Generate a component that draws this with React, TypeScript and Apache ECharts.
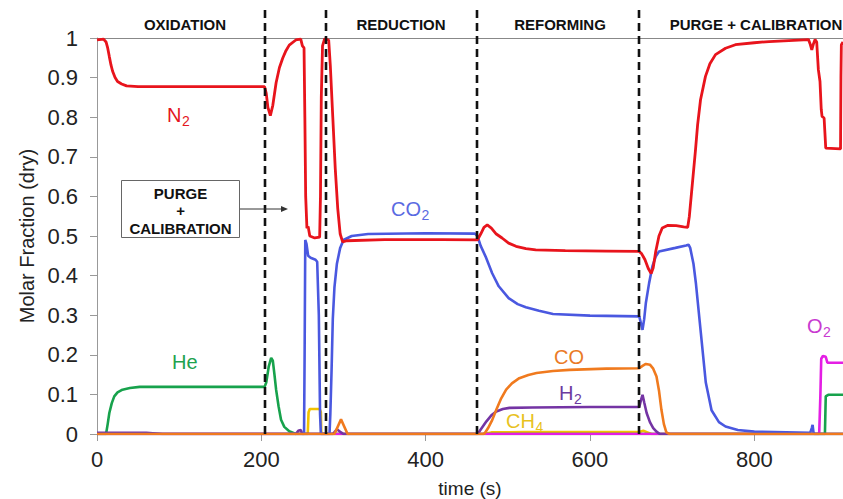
import React, { useEffect, useRef } from 'react';
import * as echarts from 'echarts';

// time (s), molar fraction (dry)
const N2_DATA = [
  [0, 0.995], [8, 0.997], [11, 0.99], [13, 0.975], [15, 0.953], [17, 0.932], [19, 0.916], [22, 0.9], [25, 0.89], [30, 0.884], [36, 0.879], [50, 0.877],
  [204, 0.877], [206, 0.86], [208, 0.825], [211, 0.804], [214, 0.83], [218, 0.887], [222, 0.925], [226, 0.949], [230, 0.968], [234, 0.982], [242, 0.995], [248, 0.997],
  [250, 0.98], [252, 0.975], [253, 0.8], [254, 0.6], [255.5, 0.52], [257, 0.524], [259, 0.5], [265, 0.495], [271, 0.497],
  [272, 0.6], [273, 0.85], [274.5, 0.98], [277, 0.998], [282, 0.995], [284, 0.93], [287, 0.8], [290, 0.67], [293, 0.57], [296, 0.505], [299, 0.485], [304, 0.488],
  [350, 0.491], [420, 0.491], [463, 0.49], [467, 0.505], [471, 0.522], [475, 0.528], [480, 0.52], [486, 0.505], [493, 0.495], [501, 0.482], [510, 0.474], [522, 0.468], [534, 0.465], [570, 0.463], [620, 0.462],
  [660, 0.461], [663, 0.455], [667, 0.44], [671, 0.418], [674.5, 0.405], [677, 0.42], [680, 0.46], [684, 0.5], [688, 0.52], [695, 0.527], [705, 0.526], [714, 0.523], [719, 0.522],
  [721, 0.55], [725, 0.64], [728.5, 0.718], [731, 0.78], [734.6, 0.844], [740.6, 0.903], [746, 0.935], [752.8, 0.958], [765, 0.974], [777, 0.983], [800, 0.988], [818, 0.991], [866, 0.996],
  [868, 0.985], [870, 0.97], [872, 0.985], [874, 0.996], [876, 0.99], [878, 0.92], [880, 0.89], [881.5, 0.82], [882.5, 0.802], [885, 0.798], [886, 0.76], [887, 0.722],
  [905, 0.72], [905.5, 0.9], [906, 0.983], [908, 0.99],
];

const CO2_DATA = [
  [0, 0], [252, 0], [252.7, 0.2], [253.5, 0.49], [255, 0.48], [257, 0.45], [260, 0.445], [266, 0.44], [268, 0.435], [270, 0.3], [271.5, 0.05], [272.5, 0],
  [283, 0], [284, 0.05], [285.5, 0.16], [287, 0.29], [289, 0.37], [292, 0.43], [296, 0.47], [300, 0.49], [310, 0.5], [330, 0.505], [400, 0.507], [460, 0.506],
  [463, 0.5], [467, 0.475], [473, 0.448], [481, 0.406], [489, 0.373], [501, 0.343], [512, 0.328], [522, 0.32], [538, 0.311], [555, 0.303], [600, 0.299], [660, 0.297],
  [662, 0.28], [664, 0.263], [666, 0.29], [668, 0.33], [672, 0.381], [676, 0.423], [680, 0.448], [684, 0.461], [704, 0.47], [717, 0.476], [720, 0.478],
  [722, 0.47], [726, 0.43], [729, 0.38], [735, 0.255], [741, 0.13], [748, 0.06], [757, 0.03], [765, 0.019], [780, 0.01], [800, 0.006], [868, 0.003],
  [870, 0.015], [871, 0.023], [872, 0.005], [873, 0], [908, 0],
];

const HE_DATA = [
  [0, 0], [11, 0], [13, 0.025], [15, 0.053], [18, 0.078], [21, 0.095], [25, 0.105], [31, 0.112], [40, 0.116], [52, 0.119], [204, 0.119],
  [206, 0.13], [209, 0.17], [212, 0.192], [214, 0.185], [216, 0.15], [218, 0.112], [221, 0.07], [224, 0.036], [228, 0.018], [234, 0.007], [242, 0],
  [886, 0], [887, 0.095], [890, 0.099], [908, 0.099],
];

const CO_DATA = [
  [0, 0], [289, 0], [297, 0.037], [305, 0], [470, 0], [472, 0.002], [476, 0.015], [481, 0.035], [486, 0.061], [492, 0.09], [498, 0.112], [505, 0.128],
  [514, 0.141], [525, 0.149], [535, 0.154], [555, 0.159], [575, 0.162], [620, 0.165], [660, 0.166], [664, 0.172], [668, 0.177], [673, 0.175], [677, 0.165],
  [681, 0.145], [684, 0.11], [687, 0.061], [690, 0.025], [693, 0.004], [697, 0], [908, 0],
];

const H2_DATA = [
  [0, 0.003], [60, 0.003], [80, 0], [242, 0], [245, 0.008], [248, 0.01], [250, 0], [287, 0], [292, 0.012], [297, 0.004], [300, 0],
  [463, 0], [466, 0.008], [470, 0.02], [474, 0.032], [480, 0.047], [486, 0.057], [494, 0.063], [502, 0.066], [530, 0.067], [600, 0.068], [660, 0.068],
  [662, 0.085], [664, 0.099], [666, 0.08], [669, 0.053], [673, 0.03], [677, 0.015], [681, 0.006], [685, 0], [908, 0],
];

const CH4_DATA = [
  [0, 0], [256.5, 0], [257.5, 0.055], [259, 0.063], [271, 0.063], [272.5, 0.055], [273, 0], [470, 0], [480, 0.004], [520, 0.005], [660, 0.005],
  [665, 0.008], [670, 0.004], [675, 0], [908, 0],
];

const O2_DATA = [
  [0, 0], [879, 0], [880.5, 0.1], [881.5, 0.19], [883.5, 0.197], [887, 0.195], [889, 0.18], [908, 0.18],
];

const PHASE_BOUNDS = [205, 279, 463, 660];
const PHASE_NAMES = ['OXIDATION', 'REDUCTION', 'REFORMING', 'PURGE + CALIBRATION'];
const PHASE_LABEL_X = [185, 401, 560, 756];

const X_MIN = 0;
const X_MAX = 908;
const X_STEP = 200;
const Y_MIN = 0;
const Y_MAX = 1;
const Y_STEP = 0.1;

const FONT = '"Liberation Sans", Arial, sans-serif';

export default function App() {
  const ref = useRef<HTMLDivElement>(null);

  useEffect(() => {
    if (!ref.current) return;
    const chart = echarts.init(ref.current, null, { renderer: 'svg' });

    const mk = (name: string, data: number[][], color: string, width = 2.6) => ({
      name,
      type: 'line',
      data,
      showSymbol: false,
      symbol: 'none',
      silent: true,
      lineStyle: { color, width },
      itemStyle: { color },
      z: 3,
    });

    chart.setOption({
      animation: false,
      backgroundColor: '#ffffff',
      grid: { left: 97, right: 0, top: 38, bottom: 65, containLabel: false, outerBoundsMode: 'none' },
      xAxis: [
        {
          type: 'value',
          min: X_MIN,
          max: X_MAX,
          interval: X_STEP,
          name: 'time (s)',
          nameLocation: 'middle',
          nameGap: 45,
          nameTextStyle: { fontFamily: FONT, fontSize: 19, color: '#222', lineHeight: 19 },
          axisLine: { show: true, lineStyle: { color: '#999', width: 1 } },
          axisTick: { show: true, length: 7, lineStyle: { color: '#999' } },
          axisLabel: {
            margin: 14,
            fontFamily: FONT,
            fontSize: 22,
            color: '#222',
            formatter: (v: number) => (v % X_STEP === 0 ? String(v) : ''),
          },
          splitLine: { show: false },
        },
        {
          type: 'value',
          position: 'top',
          min: X_MIN,
          max: X_MAX,
          axisLine: { show: true, lineStyle: { color: '#888', width: 1 } },
          axisTick: { show: false },
          axisLabel: { show: false },
          splitLine: { show: false },
        },
      ],
      yAxis: {
        type: 'value',
        min: Y_MIN,
        max: Y_MAX,
        interval: Y_STEP,
        name: 'Molar Fraction (dry)',
        nameLocation: 'middle',
        nameGap: 55,
        nameTextStyle: { fontFamily: FONT, fontSize: 20, color: '#222' },
        axisLine: { show: true, lineStyle: { color: '#999', width: 1 } },
        axisTick: { show: true, length: 7, lineStyle: { color: '#999' } },
        axisLabel: { margin: 19, fontFamily: FONT, fontSize: 22, color: '#222' },
        splitLine: { show: false },
      },
      series: [
        mk('CH4', CH4_DATA, '#f2c200'),
        mk('He', HE_DATA, '#17a24c'),
        mk('O2', O2_DATA, '#e41ee4'),
        mk('H2', H2_DATA, '#7434a4'),
        mk('CO2', CO2_DATA, '#4a58e0'),
        mk('N2', N2_DATA, '#e8141c', 2.8),
        mk('CO', CO_DATA, '#f07a1e'),
      ],
    });

    const canvas = document.createElement('canvas');
    const ctx = canvas.getContext('2d');
    const measure = (text: string, size: number) => {
      if (!ctx) return text.length * size * 0.6;
      ctx.font = `${size}px ${FONT}`;
      return ctx.measureText(text).width;
    };

    const label = (x: number, yc: number, main: string, sub: string, color: string) => {
      const els: any[] = [
        {
          type: 'text',
          x,
          y: yc,
          z: 1,
          silent: true,
          style: { text: main, fill: color, font: `20px ${FONT}`, textVerticalAlign: 'middle', verticalAlign: 'middle' },
        },
      ];
      if (sub) {
        els.push({
          type: 'text',
          x: x + measure(main, 20) + 0.5,
          y: yc + 6,
          z: 1,
          silent: true,
          style: { text: sub, fill: color, font: `14px ${FONT}`, textVerticalAlign: 'middle', verticalAlign: 'middle' },
        });
      }
      return els;
    };

    const y0 = chart.convertToPixel({ yAxisIndex: 0 }, 0) as number;
    const dashed = PHASE_BOUNDS.map((t) => {
      const x = Math.round(chart.convertToPixel({ xAxisIndex: 0 }, t) as number);
      return {
        type: 'line',
        z: 10,
        silent: true,
        shape: { x1: x, y1: 10, x2: x, y2: y0 },
        style: { stroke: '#111', lineWidth: 2.6, lineDash: [8, 5] },
      };
    });

    const phaseTexts = PHASE_NAMES.map((name, i) => ({
      type: 'text',
      x: PHASE_LABEL_X[i],
      y: 24,
      z: 10,
      silent: true,
      style: {
        text: name,
        fill: '#111',
        font: `bold 15px ${FONT}`,
        textAlign: 'center',
        align: 'center',
        textVerticalAlign: 'middle',
        verticalAlign: 'middle',
      },
    }));

    const boxText = (text: string, y: number) => ({
      type: 'text',
      x: 180.5,
      y,
      z: 11,
      silent: true,
      style: {
        text,
        fill: '#111',
        font: `bold 15px ${FONT}`,
        textAlign: 'center',
        align: 'center',
        textVerticalAlign: 'middle',
        verticalAlign: 'middle',
      },
    });

    chart.setOption({
      graphic: [
        ...dashed,
        ...phaseTexts,
        {
          type: 'rect',
          z: 10,
          silent: true,
          shape: { x: 121.5, y: 180.5, width: 118, height: 57 },
          style: { fill: '#fff', stroke: '#666', lineWidth: 1 },
        },
        boxText('PURGE', 193),
        boxText('+', 210),
        boxText('CALIBRATION', 228),
        {
          type: 'line',
          z: 10,
          silent: true,
          shape: { x1: 240, y1: 209, x2: 283, y2: 209 },
          style: { stroke: '#333', lineWidth: 1 },
        },
        {
          type: 'polygon',
          z: 10,
          silent: true,
          shape: { points: [[281, 206], [288, 209], [281, 212]] },
          style: { fill: '#333' },
        },
        ...label(167, 115, 'N', '2', '#e4161e'),
        ...label(172, 362, 'He', '', '#1ea24e'),
        ...label(391, 209, 'CO', '2', '#5a6ae2'),
        ...label(554, 357, 'CO', '', '#ea7a26'),
        ...label(559, 393, 'H', '2', '#6c3aa0'),
        ...label(506, 421, 'CH', '4', '#e8c21e'),
        ...label(807, 326, 'O', '2', '#c83ad0'),
      ],
    });

    return () => chart.dispose();
  }, []);

  return (
    <div
      ref={ref}
      style={{ position: 'fixed', left: 0, top: 0, width: 843, height: 499, background: '#fff' }}
    />
  );
}
